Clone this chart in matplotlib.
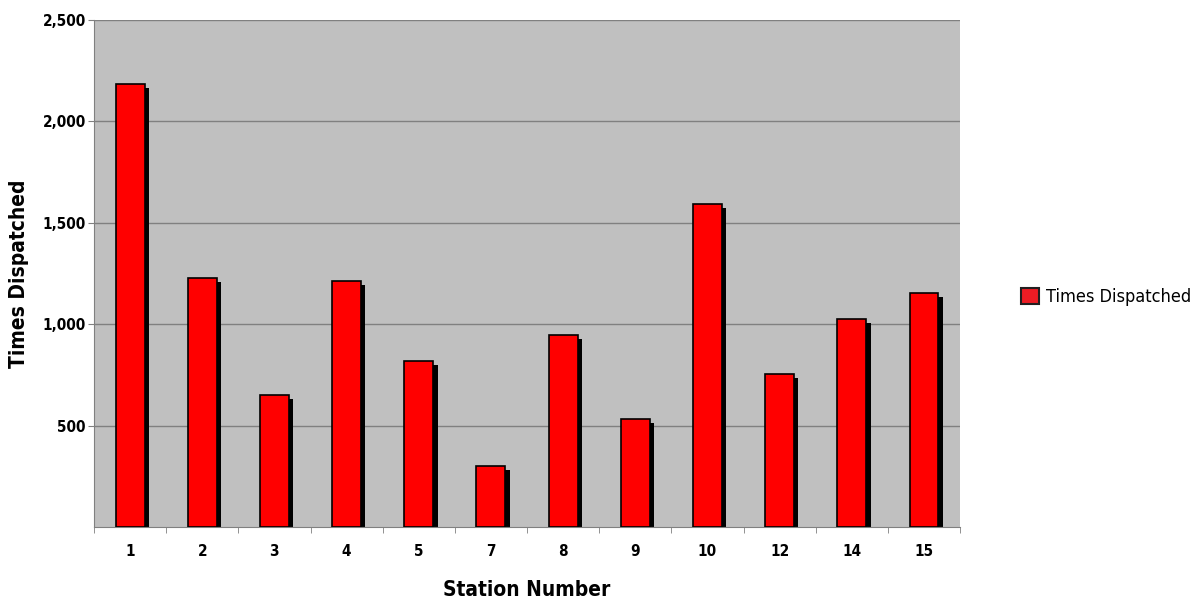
import numpy as np
import matplotlib.pyplot as plt
from matplotlib.patches import Patch

stations = ['1', '2', '3', '4', '5', '7', '8', '9', '10', '12', '14', '15']
dispatched = [2184, 1228, 651, 1213, 818, 301, 947, 533, 1593, 754, 1026, 1154]
yticks = [500, 1000, 1500, 2000, 2500]

fnt = 'DejaVu Sans'
st = 'condensed'

fig = plt.figure(figsize=(12.02, 6.03), dpi=100)
ax = fig.add_axes([0.0782, 0.126, 0.7205, 0.8408])
ax.set_facecolor('#c0c0c0')

x = np.arange(len(stations))
w = 0.4
# shadow
ax.bar(x + 0.06, np.array(dispatched) - 20, width=w, color='black', zorder=2)
ax.bar(x, dispatched, width=w, color='#ff0000', edgecolor='black', linewidth=1.2, zorder=3,
       label='Times Dispatched')

ax.set_xlim(-0.5, len(stations) - 0.5)
ax.set_ylim(0, 2500)
ax.set_yticks(yticks)
ax.set_yticklabels(['{:,}'.format(v) for v in yticks], fontsize=11, fontweight='bold',
                   family=fnt, fontstretch=st)
ax.yaxis.grid(True, color='#808080', linewidth=1)
ax.set_axisbelow(True)

ax.set_xticks(x)
ax.set_xticklabels(stations, fontsize=11, fontweight='bold', family=fnt, fontstretch=st)
ax.set_xticks(np.arange(-0.5, len(stations)), minor=True)
ax.tick_params(axis='x', which='major', length=0, pad=12)
ax.tick_params(axis='x', which='minor', length=4, color='#808080', direction='out')
ax.tick_params(axis='y', length=4, color='#808080', direction='out', pad=2)

for s in ['top', 'right']:
    ax.spines[s].set_visible(False)
for s in ['left', 'bottom']:
    ax.spines[s].set_color('#808080')

ax.set_xlabel('Station Number', fontsize=15, fontweight='bold', family=fnt, fontstretch=st,
              labelpad=15)
ax.set_ylabel('Times Dispatched', fontsize=15, fontweight='bold', family=fnt, fontstretch=st)
ax.yaxis.set_label_coords(-0.075, 0.5)

handle = Patch(facecolor='#ed1c24', edgecolor='#231f20', linewidth=1.5)
fig.legend([handle], ['Times Dispatched'], loc='center left', bbox_to_anchor=(0.836, 0.507),
           frameon=False, prop={'family': fnt, 'size': 13, 'stretch': st},
           handlelength=1.0, handleheight=1.0, handletextpad=0.4)

fig.savefig('out.png', dpi=100)
